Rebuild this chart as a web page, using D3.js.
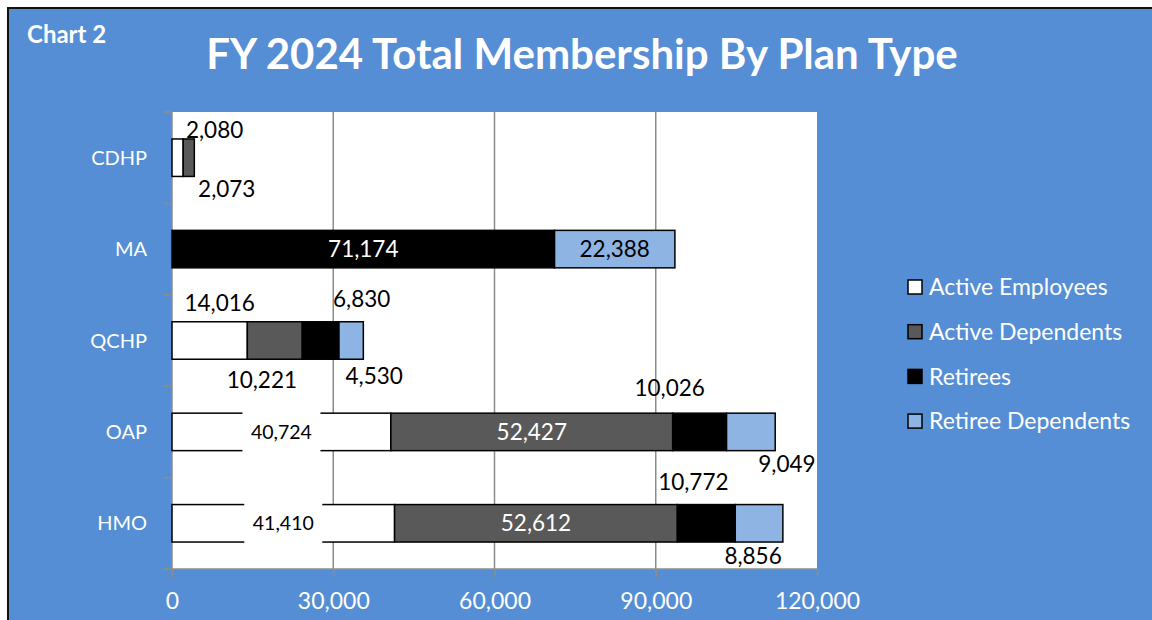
<!DOCTYPE html>
<html>
<head>
<meta charset="utf-8">
<script src="https://cdn.jsdelivr.net/npm/d3@7"></script>
<style>
    body { margin: 0; background: #fff; }
    svg { display: block; font-family: Lato, "Open Sans", sans-serif; }
</style>
</head>
<body>
<svg id="chart" width="1152" height="620"></svg>
<script>
var plans = ["CDHP", "MA", "QCHP", "OAP", "HMO"];
var seriesNames = ["Active Employees", "Active Dependents", "Retirees", "Retiree Dependents"];
var activeEmployees = [2080, 0, 14016, 40724, 41410];
var activeDependents = [2073, 0, 10221, 52427, 52612];
var retirees = [0, 71174, 6830, 10026, 10772];
var retireeDependents = [0, 22388, 4530, 9049, 8856];
var xTicks = [0, 30000, 60000, 90000, 120000];

var colors = ["#ffffff", "#595959", "#000000", "#8eb4e3"];

// where each label sits: "in" = inside the segment, otherwise [dx, dy] from segment centre
var labelPlace = {
    "CDHP": [[37, -28], [38, 31], null, null],
    "MA": [null, null, "in", "in"],
    "QCHP": [[10, -38], [-13, 39], [41, -42], [23, 35]],
    "OAP": ["in", "in", [-30, -44], [36, 32]],
    "HMO": ["in", "in", [-13, -41], [-6, 33]]
};

var svg = d3.select("#chart");
var blue = "#558ed5";

svg.append("rect").attr("x", 8).attr("y", 8).attr("width", 1160).attr("height", 630)
    .attr("fill", blue).attr("stroke", "#111").attr("stroke-width", 2);

svg.append("text").attr("x", 27).attr("y", 43)
    .attr("fill", "white").attr("font-weight", "bold").attr("font-size", 24)
    .text("Chart 2");

svg.append("text").attr("x", 582).attr("y", 69)
    .attr("fill", "white").attr("font-weight", "bold").attr("font-size", 42)
    .attr("text-anchor", "middle")
    .text("FY 2024 Total Membership By Plan Type");

var x = d3.scaleLinear().domain([0, 120000]).range([172, 817]);
var y = d3.scaleBand().domain(plans).range([112, 569]).padding(0);
var barH = y.bandwidth() * 0.41;

svg.append("rect").attr("x", x(0)).attr("y", 112).attr("width", x(120000) - x(0)).attr("height", 569 - 112)
    .attr("fill", "white");

// gridlines
svg.append("g").selectAll("line")
    .data(xTicks.slice(1, 4))
    .enter().append("line")
    .attr("x1", d => x(d)).attr("x2", d => x(d))
    .attr("y1", 112).attr("y2", 569)
    .attr("stroke", "#8c8c8c").attr("stroke-width", 1.5);

// axes
var xAxis = svg.append("g")
    .attr("transform", "translate(0,569)")
    .call(d3.axisBottom(x).tickValues(xTicks).tickSize(8).tickPadding(16).tickFormat(d3.format(",")));
xAxis.select(".domain").remove();
xAxis.selectAll("line").attr("stroke", "#8c8c8c").attr("stroke-width", 1.5);
xAxis.selectAll("text").attr("fill", "white").attr("font-size", 23).attr("font-family", "Lato");

svg.append("line").attr("x1", 163).attr("x2", 817).attr("y1", 569).attr("y2", 569)
    .attr("stroke", "#8c8c8c").attr("stroke-width", 1.5);
svg.append("line").attr("x1", 172).attr("x2", 172).attr("y1", 112).attr("y2", 577)
    .attr("stroke", "#8c8c8c").attr("stroke-width", 1.5);

var bounds = plans.map(p => y(p)).concat([569]);
svg.append("g").selectAll("line")
    .data(bounds)
    .enter().append("line")
    .attr("x1", 163).attr("x2", 172)
    .attr("y1", d => d).attr("y2", d => d)
    .attr("stroke", "#8c8c8c").attr("stroke-width", 1.5);

svg.append("g").selectAll("text")
    .data(plans)
    .enter().append("text")
    .attr("x", 147)
    .attr("y", d => y(d) + y.bandwidth() / 2)
    .attr("dy", "0.35em")
    .attr("text-anchor", "end")
    .attr("fill", "white").attr("font-size", 20)
    .text(d => d);

// stacked segments
var series = [activeEmployees, activeDependents, retirees, retireeDependents];
var segs = [];
plans.forEach(function (p, i) {
    var start = 0;
    series.forEach(function (s, k) {
        var v = s[i];
        if (v > 0) segs.push({ plan: p, k: k, x0: start, x1: start + v, value: v });
        start += v;
    });
});

svg.append("g").selectAll("rect")
    .data(segs)
    .enter().append("rect")
    .attr("x", d => x(d.x0))
    .attr("y", d => y(d.plan) + (y.bandwidth() - barH) / 2)
    .attr("width", d => x(d.x1) - x(d.x0))
    .attr("height", barH)
    .attr("fill", d => colors[d.k])
    .attr("stroke", "black").attr("stroke-width", 1.5);

// data labels
var fmt = d3.format(",");
var labels = svg.append("g");
segs.forEach(function (d) {
    var place = labelPlace[d.plan][d.k];
    if (!place) return;
    var cx = (x(d.x0) + x(d.x1)) / 2;
    var cy = y(d.plan) + y.bandwidth() / 2;
    var txtColor = "black";
    var size = 22.5;
    if (place === "in") {
        if (d.k === 1 || d.k === 2) txtColor = "white";
        if (d.k === 0) {
            size = 19.5;
            labels.append("rect").attr("x", cx - 39).attr("y", cy - barH / 2 - 2)
                .attr("width", 78).attr("height", barH + 4).attr("fill", "white");
        }
    } else {
        cx += place[0];
        cy += place[1];
    }
    labels.append("text")
        .attr("x", cx).attr("y", cy).attr("dy", "0.36em")
        .attr("text-anchor", "middle")
        .attr("fill", txtColor).attr("font-size", size)
        .text(fmt(d.value));
});

// legend
var legend = svg.append("g").selectAll("g")
    .data(seriesNames)
    .enter().append("g")
    .attr("transform", (d, i) => "translate(908," + (287 + i * 44.7) + ")");
legend.append("rect").attr("x", 0).attr("y", -7).attr("width", 14).attr("height", 14)
    .attr("fill", (d, i) => colors[i]).attr("stroke", "black").attr("stroke-width", 1.5);
legend.append("text").attr("x", 21).attr("y", 0).attr("dy", "0.36em")
    .attr("fill", "white").attr("font-size", 23)
    .text(d => d);
</script>
</body>
</html>
